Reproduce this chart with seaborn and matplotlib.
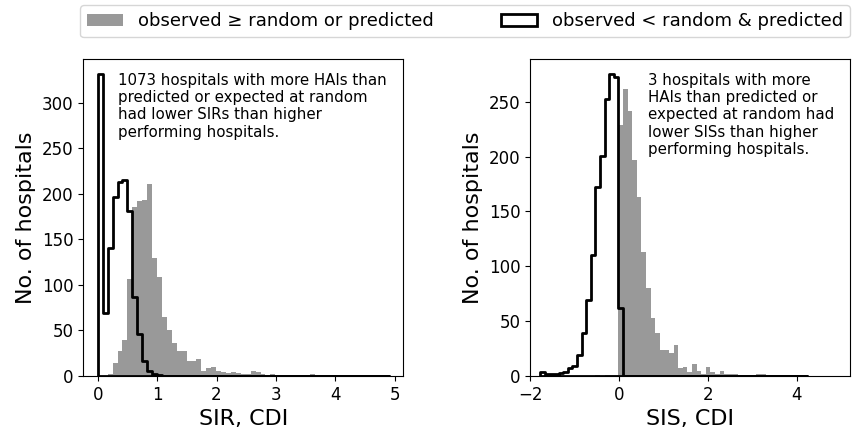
import numpy as np
import pandas as pd
import matplotlib
matplotlib.use("Agg")
import matplotlib.pyplot as plt
import seaborn as sns
from matplotlib.patches import Patch

# ---- data (counts per bin) ----
# SIR, CDI: 59 equal-width bins between 0 and 4.9
sir_range = (0.0, 4.9)
sir_above = [0, 0, 2, 14, 27, 40, 106, 185, 192, 193,
             211, 129, 109, 65, 50, 36, 27, 27, 17, 16,
             19, 6, 9, 10, 5, 4, 3, 4, 3, 2,
             2, 6, 4, 2, 1, 2, 1, 1, 0, 1,
             1, 0, 1, 2, 1, 0, 0, 0, 0, 0,
             0, 0, 0, 0, 0, 0, 0, 0, 1]
sir_below = [331, 69, 140, 196, 213, 215, 181, 87, 46, 17,
             5, 2, 1] + [0] * 46

# SIS, CDI: 58 equal-width bins between -1.77 and 4.23
sis_range = (-1.77, 4.23)
sis_above = [0, 0, 0, 0, 0, 0, 0, 0, 0, 0,
             0, 0, 1, 0, 1, 1, 1, 229, 262, 242,
             197, 163, 113, 80, 53, 39, 24, 24, 21, 28,
             7, 8, 4, 11, 5, 2, 8, 4, 2, 5,
             2, 2, 2, 1, 0, 1, 0, 2, 2, 1,
             0, 0, 0, 0, 0, 0, 0, 1]
sis_below = [4, 2, 2, 2, 3, 4, 7, 9, 19, 39,
             69, 110, 172, 201, 253, 275, 273, 62] + [0] * 40

sir_note = ("1073 hospitals with more HAIs than\npredicted or expected at random\n"
            "had lower SIRs than higher\nperforming hospitals.")
sis_note = ("3 hospitals with more\nHAIs than predicted or\nexpected at random had\n"
            "lower SISs than higher\nperforming hospitals.")

label_above = "observed \u2265 random or predicted"
label_below = "observed < random & predicted"

GRAY = "#999999"


def binned(lo, hi, above, below):
    edges = np.linspace(lo, hi, len(above) + 1)
    mids = (edges[:-1] + edges[1:]) / 2
    return pd.DataFrame({"value": mids, "above": above, "below": below})


def panel(ax, rng, above, below, xlabel, note, note_x):
    df = binned(rng[0], rng[1], above, below)
    nb = len(above)
    # filled step = one polygon, so no seams between bars
    sns.histplot(data=df, x="value", weights="above", bins=nb, binrange=rng,
                 ax=ax, element="step", fill=True, color=GRAY, alpha=1,
                 linewidth=0)
    sns.histplot(data=df, x="value", weights="below", bins=nb, binrange=rng,
                 ax=ax, element="step", fill=True, color="black",
                 facecolor="none", edgecolor="black", linewidth=2)
    ax.set_xlabel(xlabel, fontsize=16)
    ax.set_ylabel("No. of hospitals", fontsize=16)
    ax.tick_params(labelsize=12)
    ax.text(note_x, 0.958, note, transform=ax.transAxes, va="top",
            fontsize=10.8)


def main():
    fig = plt.figure(figsize=(8.56, 4.3), dpi=100)
    ax1 = fig.add_axes([0.0973, 0.1256, 0.3738, 0.7365])
    ax2 = fig.add_axes([0.6192, 0.1256, 0.3738, 0.7365])

    panel(ax1, sir_range, sir_above, sir_below, "SIR, CDI", sir_note, 0.11)
    panel(ax2, sis_range, sis_above, sis_below, "SIS, CDI", sis_note, 0.369)
    ax2.set_xlim(-2, 5.2)
    ax2.set_xticks([-2, 0, 2, 4])

    handles = [Patch(facecolor=GRAY, edgecolor="none"),
               Patch(facecolor="white", edgecolor="black", linewidth=2)]
    fig.legend(handles, [label_above, label_below], loc="upper left",
               bbox_to_anchor=(80 / 856, 1 - 5 / 430, 770 / 856, 0),
               mode="expand", ncol=2, fontsize=13, borderaxespad=0)

    fig.savefig("out.png", dpi=100)


if __name__ == "__main__":
    main()
